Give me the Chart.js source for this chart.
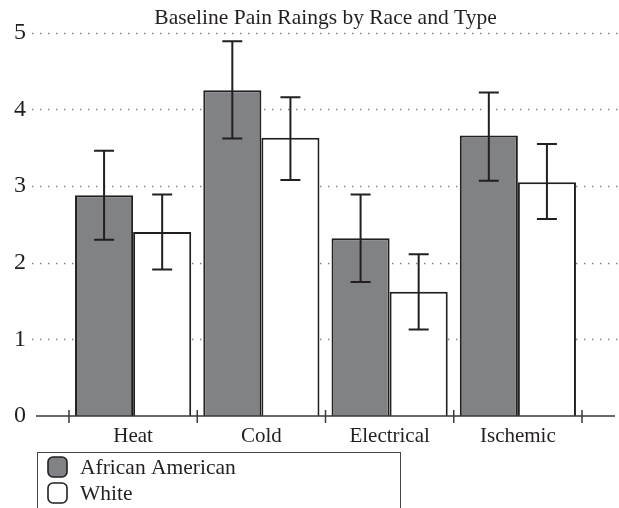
<!DOCTYPE html>
<html>
<head>
<meta charset="utf-8">
<script src="https://cdn.jsdelivr.net/npm/chart.js@4"></script>
<style>
  html, body { margin: 0; padding: 0; background: #fff; }
</style>
</head>
<body>
<canvas id="myChart" width="619" height="508"></canvas>
<script>
// data
const categories = ['Heat', 'Cold', 'Electrical', 'Ischemic'];
const seriesNames = ['African American', 'White'];
const africanAmerican = [2.88, 4.25, 2.32, 3.66];
const white = [2.40, 3.63, 1.62, 3.05];
const africanAmericanLow = [2.30, 3.62, 1.75, 3.07];
const africanAmericanHigh = [3.46, 4.89, 2.89, 4.22];
const whiteLow = [1.91, 3.08, 1.13, 2.57];
const whiteHigh = [2.89, 4.16, 2.11, 3.55];
const yTicks = [0, 1, 2, 3, 4, 5];

const ink = '#231f20';
const grey = '#818285';
const serif = "'Liberation Serif', 'Times New Roman', serif";
const errLow = [africanAmericanLow, whiteLow];
const errHigh = [africanAmericanHigh, whiteHigh];

Chart.defaults.font.family = serif;
Chart.defaults.color = ink;

// dotted horizontal gridlines (run past the plot area like the original)
const dottedGrid = {
    id: 'dottedGrid',
    beforeDatasetsDraw(chart) {
        const {ctx, chartArea, scales} = chart;
        ctx.save();
        ctx.strokeStyle = '#808080';
        ctx.lineWidth = 1.4;
        ctx.setLineDash([1.4, 6.6]);
        yTicks.forEach(v => {
            if (v === 0) return;
            const y = Math.round(scales.y.getPixelForValue(v)) + 0.5;
            ctx.beginPath();
            ctx.moveTo(chartArea.left - 37, y);
            ctx.lineTo(chartArea.right + 37, y);
            ctx.stroke();
        });
        ctx.restore();
    }
};

// error bars + x axis line with cross ticks
const errorBars = {
    id: 'errorBars',
    afterDatasetsDraw(chart) {
        const {ctx, chartArea, scales} = chart;
        ctx.save();
        ctx.strokeStyle = ink;
        ctx.lineWidth = 2;
        chart.data.datasets.forEach((ds, d) => {
            const meta = chart.getDatasetMeta(d);
            meta.data.forEach((bar, i) => {
                const x = bar.x;
                const yLo = scales.y.getPixelForValue(errLow[d][i]);
                const yHi = scales.y.getPixelForValue(errHigh[d][i]);
                ctx.beginPath();
                ctx.moveTo(x, yLo); ctx.lineTo(x, yHi);
                ctx.moveTo(x - 10, yLo); ctx.lineTo(x + 10, yLo);
                ctx.moveTo(x - 10, yHi); ctx.lineTo(x + 10, yHi);
                ctx.stroke();
            });
        });

        // axis
        const y0 = scales.y.getPixelForValue(0);
        ctx.strokeStyle = '#3a3a3a';
        ctx.lineWidth = 1.5;
        ctx.beginPath();
        ctx.moveTo(chartArea.left - 33, y0);
        ctx.lineTo(chartArea.right + 33, y0);
        const step = scales.x.getPixelForValue(1) - scales.x.getPixelForValue(0);
        for (let i = 0; i <= categories.length; i++) {
            const bx = scales.x.getPixelForValue(0) - step / 2 + i * step;
            ctx.moveTo(bx, y0 - 6);
            ctx.lineTo(bx, y0 + 7);
        }
        ctx.stroke();
        ctx.restore();
    }
};

// boxed legend under the axis, one row per series
const boxLegend = {
    id: 'boxLegend',
    afterDraw(chart) {
        const {ctx, chartArea} = chart;
        const left = chartArea.left - 32;
        const top = chart.height - 56;
        ctx.save();
        ctx.strokeStyle = '#444';
        ctx.lineWidth = 1;
        ctx.strokeRect(left + 0.5, top + 0.5, 363, 70);
        ctx.font = '21.5px ' + serif;
        ctx.textBaseline = 'middle';
        chart.data.datasets.forEach((ds, d) => {
            const by = top + 5 + d * 26;
            ctx.beginPath();
            ctx.roundRect(left + 11, by, 19, 20, 5);
            ctx.fillStyle = ds.backgroundColor;
            ctx.fill();
            ctx.strokeStyle = ink;
            ctx.lineWidth = 1.6;
            ctx.stroke();
            ctx.fillStyle = ink;
            ctx.fillText(ds.label, left + 43, by + 11);
        });
        ctx.restore();
    }
};

const ctx = document.getElementById('myChart').getContext('2d');
const myChart = new Chart(ctx, {
    type: 'bar',
    data: {
        labels: categories,
        datasets: [{
            label: seriesNames[0],
            data: africanAmerican,
            backgroundColor: grey,
            borderColor: ink,
            borderWidth: 2
        }, {
            label: seriesNames[1],
            data: white,
            backgroundColor: '#ffffff',
            borderColor: ink,
            borderWidth: 2
        }]
    },
    options: {
        responsive: false,
        animation: false,
        datasets: {
            bar: { barPercentage: 1, categoryPercentage: 0.906 }
        },
        layout: { padding: { left: 14, right: 37, top: 0, bottom: 56 } },
        plugins: {
            legend: { display: false },
            tooltip: { enabled: false },
            title: {
                display: true,
                text: 'Baseline Pain Raings by Race and Type',
                fullSize: false,
                font: { size: 21.5, weight: 'normal' },
                color: ink,
                padding: { top: 5, bottom: 2 }
            }
        },
        scales: {
            x: {
                offset: true,
                grid: { display: false, drawTicks: false },
                border: { display: false },
                ticks: { font: { size: 21 }, padding: 8, color: ink },
                afterFit: s => { s.height = 36; }
            },
            y: {
                min: 0,
                max: 5,
                afterBuildTicks: s => { s.ticks = yTicks.map(v => ({ value: v })); },
                grid: { display: false, drawTicks: false },
                border: { display: false },
                ticks: { font: { size: 24 }, padding: 0, crossAlign: 'far', color: ink },
                afterFit: s => { s.width = 55; }
            }
        }
    },
    plugins: [dottedGrid, errorBars, boxLegend]
});
</script>
</body>
</html>
